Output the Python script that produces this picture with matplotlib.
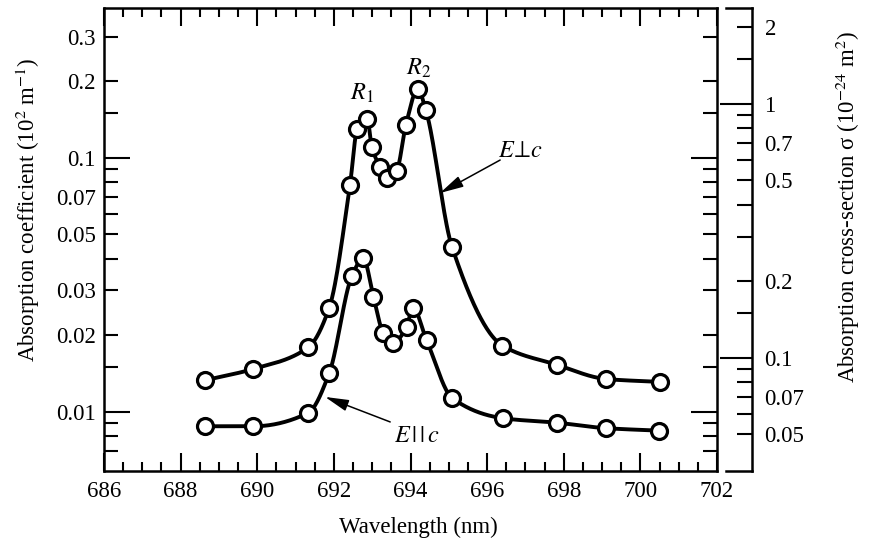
import numpy as np
import matplotlib.pyplot as plt
from matplotlib.ticker import FixedLocator, FuncFormatter

plt.rcParams['font.family'] = 'Liberation Serif'
plt.rcParams['mathtext.fontset'] = 'stix'

# wavelength (nm) and absorption coefficient (10^2 m^-1) for E perpendicular to c
wl_perp = [688.64, 689.88, 691.33, 691.88, 692.42, 692.61, 692.87, 692.99, 693.20, 693.39,
           693.64, 693.88, 694.19, 694.40, 695.08, 696.40, 697.82, 699.10, 700.51]
alpha_perp = [0.0133, 0.0147, 0.0179, 0.0257, 0.078, 0.130, 0.142, 0.1105, 0.0922, 0.083,
              0.0887, 0.135, 0.186, 0.154, 0.0447, 0.0182, 0.0153, 0.01345, 0.0131]

# same for E parallel to c
wl_par = [688.64, 689.90, 691.33, 691.88, 692.47, 692.77, 693.03, 693.29, 693.55, 693.90,
          694.06, 694.42, 695.09, 696.42, 697.82, 699.10, 700.49]
alpha_par = [0.00876, 0.00876, 0.00989, 0.0142, 0.0342, 0.0402, 0.0284, 0.0204, 0.0187, 0.0216,
             0.0257, 0.0191, 0.0113, 0.00942, 0.00905, 0.00861, 0.00842]

# alpha / sigma, in (10^2 m^-1) / (10^-24 m^2)
n_cr = 0.163

left_minor = [0.007, 0.008, 0.009, 0.015, 0.02, 0.03, 0.04, 0.05, 0.06, 0.07, 0.08, 0.09,
              0.15, 0.2, 0.3]
left_labels = [0.02, 0.03, 0.05, 0.07, 0.2, 0.3]
right_minor = [0.05, 0.06, 0.07, 0.08, 0.09, 0.15, 0.2, 0.3, 0.4, 0.5, 0.6, 0.7, 0.8, 0.9,
               1.5, 2]
right_labels = [0.05, 0.07, 0.2, 0.5, 0.7, 2]


def pchip(x, y, xs):
    # monotone cubic through the points, used only to draw a smooth line
    x = np.asarray(x, float)
    y = np.asarray(y, float)
    h = np.diff(x)
    d = np.diff(y) / h
    m = np.zeros_like(y)
    for k in range(1, len(x) - 1):
        if d[k - 1] * d[k] > 0:
            w1 = 2 * h[k] + h[k - 1]
            w2 = h[k] + 2 * h[k - 1]
            m[k] = (w1 + w2) / (w1 / d[k - 1] + w2 / d[k])
    m[0] = d[0]
    m[-1] = d[-1]
    i = np.clip(np.searchsorted(x, xs) - 1, 0, len(x) - 2)
    t = (xs - x[i]) / h[i]
    h00 = 2 * t**3 - 3 * t**2 + 1
    h10 = t**3 - 2 * t**2 + t
    h01 = -2 * t**3 + 3 * t**2
    h11 = t**3 - t**2
    return h00 * y[i] + h10 * h[i] * m[i] + h01 * y[i + 1] + h11 * h[i] * m[i + 1]


def pick(values):
    return FuncFormatter(lambda v, p: f'{v:g}' if any(abs(v - s) < 1e-9 for s in values) else '')


fig = plt.figure(figsize=(8.71, 5.46), dpi=100)
ax = fig.add_axes([104 / 871, 1 - 471 / 546, 613 / 871, 463 / 546])

for wl, alpha in [(wl_perp, alpha_perp), (wl_par, alpha_par)]:
    xs = np.linspace(wl[0], wl[-1], 600)
    ax.plot(xs, 10 ** pchip(wl, np.log10(alpha), xs), color='k', lw=2.8, zorder=2)
    ax.plot(wl, alpha, 'o', ms=11.5, mfc='white', mec='k', mew=2.3, zorder=3)

ax.set_yscale('log')
ax.set_xlim(686, 702)
ax.set_ylim(0.00584, 0.3885)

ax.set_xticks(np.arange(686, 703, 2))
ax.set_xticks(np.arange(686, 702.1, 0.5), minor=True)
ax.yaxis.set_major_locator(FixedLocator([0.01, 0.1]))
ax.yaxis.set_major_formatter(FuncFormatter(lambda v, p: f'{v:g}'))
ax.yaxis.set_minor_locator(FixedLocator(left_minor))
ax.yaxis.set_minor_formatter(pick(left_labels))

ax.tick_params(which='both', direction='in', top=True, right=True, width=1.5,
               labelsize=16.5, colors='k')
ax.tick_params(axis='x', which='major', length=13, pad=7)
ax.tick_params(axis='x', which='minor', length=6.5)
ax.tick_params(axis='y', which='major', length=19, pad=6)
ax.tick_params(axis='y', which='minor', length=10, pad=6)
for s in ax.spines.values():
    s.set_linewidth(1.8)

# cross-section scale on its own narrow frame
ax2 = fig.add_axes([726 / 871, 1 - 471 / 546, 26 / 871, 463 / 546])
ax2.patch.set_visible(False)
ax2.set_yscale('log')
ax2.set_ylim(0.00584 / n_cr, 0.3885 / n_cr)
ax2.set_xticks([])
ax2.spines['left'].set_visible(False)
for s in ax2.spines.values():
    s.set_linewidth(1.8)
ax2.yaxis.tick_right()
ax2.yaxis.set_major_locator(FixedLocator([0.1, 1]))
ax2.yaxis.set_major_formatter(FuncFormatter(lambda v, p: f'{v:g}'))
ax2.yaxis.set_minor_locator(FixedLocator(right_minor))
ax2.yaxis.set_minor_formatter(pick(right_labels))
ax2.tick_params(which='both', direction='in', width=1.5, labelsize=16.5, pad=9)
ax2.tick_params(which='major', length=23)
ax2.tick_params(which='minor', length=11)

fig.text(28 / 871, 1 - 210 / 546, 'Absorption coefficient (10$^2$ m$^{-1}$)',
         rotation=90, ha='center', va='center', fontsize=16.5)
fig.text(848 / 871, 1 - 207 / 546, 'Absorption cross-section σ (10$^{-24}$ m$^2$)',
         rotation=90, ha='center', va='center', fontsize=16.5)
fig.text(418 / 871, 1 - 527 / 546, 'Wavelength (nm)', ha='center', va='center', fontsize=16.5)

ax.text(692.73, 0.18, '$R_1$', ha='center', va='center', fontsize=17.5)
ax.text(694.20, 0.2255, '$R_2$', ha='center', va='center', fontsize=17.5)
ax.text(696.88, 0.1053, r'$E\!\perp\! c$', ha='center', va='center', fontsize=17.5)
ax.text(694.17, 0.00795, r'$E\,|\,|\,c$', ha='center', va='center', fontsize=17.5)

arrow = dict(arrowstyle='-|>,head_length=0.9,head_width=0.22', color='k', lw=1.1,
             shrinkA=0, shrinkB=0, mutation_scale=16)
ax.annotate('', xy=(694.77, 0.0726), xytext=(696.34, 0.0979), arrowprops=arrow)
ax.annotate('', xy=(691.77, 0.01143), xytext=(693.47, 0.00911), arrowprops=arrow)

fig.savefig('out.png', dpi=100)
